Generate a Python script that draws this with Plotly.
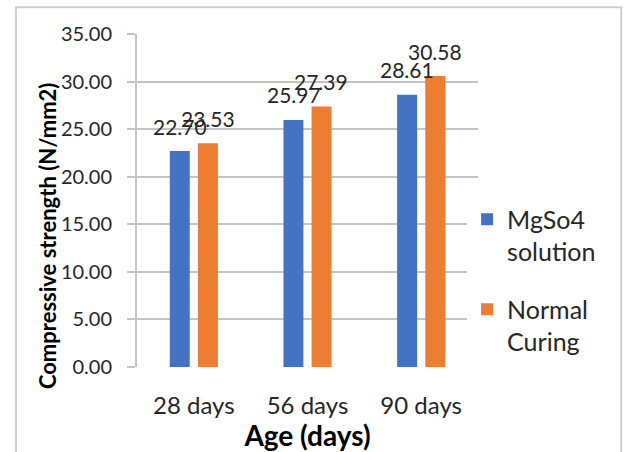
import plotly.graph_objects as go

# Compressive strength by curing age
ages = ["28 days", "56 days", "90 days"]
mgso4_solution = [22.70, 25.97, 28.61]
normal_curing = [23.53, 27.39, 30.58]
series_names = ["MgSo4<br>solution", "Normal<br>Curing"]
y_ticks = [0, 5, 10, 15, 20, 25, 30, 35]

BLUE = "#4472C4"
ORANGE = "#ED7D31"
FONT = "Lato, 'Open Sans', sans-serif"
TEXT = "#262626"
GRID = "#c4c4c4"

fig = go.Figure()
fig.add_trace(go.Bar(x=ages, y=mgso4_solution, name=series_names[0],
                     legendgroup="mg", marker=dict(color=BLUE, line=dict(width=0))))
fig.add_trace(go.Bar(x=ages, y=normal_curing, name=series_names[1],
                     legendgroup="nc", marker=dict(color=ORANGE, line=dict(width=0))))

# value labels above each bar
for i, vals in enumerate([mgso4_solution, normal_curing]):
    offset = -0.123 if i == 0 else 0.123
    for k, v in enumerate(vals):
        fig.add_annotation(x=k + offset, y=v, xref="x", yref="y",
                           text=f"{v:.2f}", showarrow=False, yshift=25,
                           font=dict(family=FONT, size=21, color=TEXT))

# y-axis title, placed a little below the plot's vertical centre
fig.add_annotation(x=-0.264, y=0.396, xref="paper", yref="paper",
                   text="<b>Compressive strength (N/mm2)</b>", textangle=-90,
                   showarrow=False, xanchor="center", yanchor="middle",
                   font=dict(family=FONT, size=22, color="#000000"))

# outer chart frame
fig.add_shape(type="rect", xref="paper", yref="paper",
              x0=-0.355, x1=1.42, y0=-0.3, y1=1.08,
              line=dict(color="#cfcfcf", width=2), layer="below")

fig.update_layout(
    width=634, height=452,
    margin=dict(l=137, r=156, t=34, b=85),
    paper_bgcolor="white", plot_bgcolor="white",
    barmode="group", bargap=0.505, bargroupgap=0.29,
    font=dict(family=FONT, color=TEXT),
    legend=dict(x=0.968, y=0.26, yanchor="middle", xanchor="left",
                font=dict(size=25, color=TEXT), tracegroupgap=22,
                valign="top", itemwidth=30),
    xaxis=dict(showgrid=False, showline=False, ticks="",
               tickfont=dict(size=24, color=TEXT), ticklabelstandoff=22,
               title=dict(text="<b>Age (days)</b>", standoff=2,
                          font=dict(size=28, color="#000000"))),
    yaxis=dict(range=[0, 35], tickvals=y_ticks,
               ticktext=[f"{t:.2f}" for t in y_ticks],
               showgrid=True, gridcolor=GRID, gridwidth=2,
               showline=True, linecolor=GRID, linewidth=2,
               ticks="outside", ticklen=8, tickcolor=GRID, tickwidth=2,
               ticklabelstandoff=11,
               zeroline=False,
               tickfont=dict(size=20, color=TEXT)),
)

fig.write_html("out.html")
